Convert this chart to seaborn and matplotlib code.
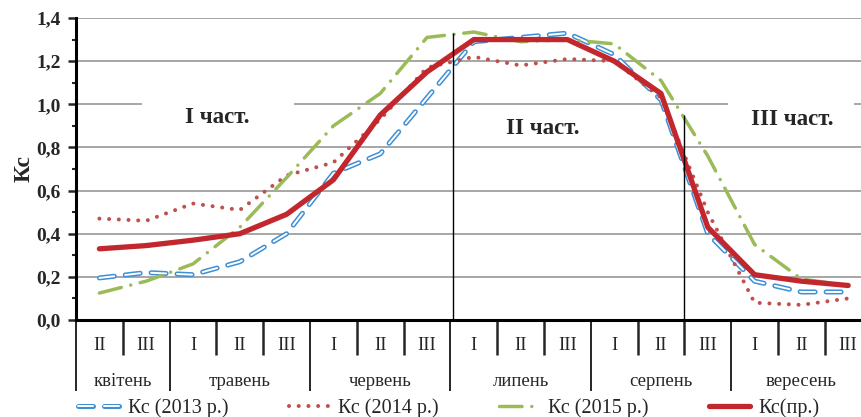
import numpy as np
import pandas as pd
import seaborn as sns
import matplotlib.pyplot as plt
import matplotlib.patheffects as pe
from matplotlib.patches import Rectangle

# decades (I, II, III) of each month, April II .. September III
decades = ["II", "III", "I", "II", "III", "I", "II", "III", "I", "II", "III",
           "I", "II", "III", "I", "II", "III"]
months = ["квітень", "травень", "червень", "липень", "серпень", "вересень"]
month_sizes = [2, 3, 3, 3, 3, 3]

kc_2013 = [0.195, 0.22, 0.21, 0.27, 0.40, 0.68, 0.77, 1.03, 1.29, 1.31, 1.33,
           1.23, 1.02, 0.40, 0.18, 0.13, 0.13]
kc_2014 = [0.47, 0.46, 0.54, 0.51, 0.67, 0.73, 0.93, 1.17, 1.22, 1.18, 1.21,
           1.20, 1.03, 0.50, 0.08, 0.07, 0.10]
kc_2015 = [0.125, 0.18, 0.26, 0.43, 0.66, 0.90, 1.05, 1.31, 1.335, 1.29, 1.30,
           1.28, 1.11, 0.76, 0.35, 0.19, 0.16]
kc_pr = [0.33, 0.345, 0.37, 0.40, 0.49, 0.65, 0.95, 1.15, 1.30, 1.30, 1.30,
         1.20, 1.05, 0.43, 0.21, 0.18, 0.16]

series_labels = ["Кс (2013 р.)", "Кс (2014 р.)", "Кс (2015 р.)", "Кс(пр.)"]

sns.set_style("white")
plt.rcParams['font.family'] = ['Liberation Serif', 'DejaVu Serif']

x = np.arange(len(decades))
data = pd.DataFrame({"x": x, "2013": kc_2013, "2014": kc_2014,
                     "2015": kc_2015, "pr": kc_pr})

fig = plt.figure(figsize=(8.62, 4.17), dpi=100)
ax = fig.add_axes([76 / 862, 97 / 417, 795.6 / 862, 302 / 417])

# 2013 - hollow blue dashes
sns.lineplot(data=data, x="x", y="2013", ax=ax, color="#3d8fd6", lw=3.6,
             linestyle=(0, (3.0, 2.2)), dash_capstyle="round",
             label=series_labels[0], zorder=3,
             path_effects=[pe.Stroke(linewidth=3.6, foreground="#3d8fd6"),
                           pe.Stroke(linewidth=1.4, foreground="white")])
# 2014 - dotted
sns.lineplot(data=data, x="x", y="2014", ax=ax, color="#c0504d", lw=2.9,
             linestyle=(0, (0.01, 2.4)), dash_capstyle="round",
             label=series_labels[1], zorder=3)
# 2015 - dash-dot
sns.lineplot(data=data, x="x", y="2015", ax=ax, color="#9bbb59", lw=2.5,
             linestyle=(0, (6.5, 2.8, 0.01, 2.8)), dash_capstyle="round",
             label=series_labels[2], zorder=3)
# forecast - solid red
sns.lineplot(data=data, x="x", y="pr", ax=ax, color="#c1272d", lw=3.8,
             label=series_labels[3], zorder=4)

if ax.get_legend() is not None:
    ax.get_legend().remove()

ax.set_xlim(-0.5, len(decades) - 0.5)
ax.set_ylim(0, 1.4)

# y axis
ax.set_yticks(np.arange(0, 1.41, 0.2))
ax.set_yticks(np.arange(0.1, 1.41, 0.2), minor=True)
ax.set_yticklabels([f"{v:.1f}".replace(".", ",") for v in np.arange(0, 1.41, 0.2)],
                   fontsize=14, fontweight="bold")
ax.tick_params(axis="y", which="major", direction="out", length=6, width=1.8, pad=5, left=True)
ax.tick_params(axis="y", which="minor", direction="out", length=3, width=1.5, left=True)
ax.set_ylabel("Кс", fontsize=17, fontweight="bold", labelpad=1)
ax.yaxis.grid(True, which="major", color="#a6a6a6", lw=1.4)
ax.set_axisbelow(True)

# x axis: boundaries between decades and months
bounds = np.arange(len(decades) + 1) - 0.5
month_bounds = np.concatenate([[-0.5], np.cumsum(month_sizes) - 0.5])
ax.set_xticks(month_bounds)
ax.set_xticks(bounds, minor=True)
ax.set_xticklabels([])
ax.tick_params(axis="x", which="major", direction="out", length=51, width=1.4, bottom=True)
ax.tick_params(axis="x", which="minor", direction="out", length=25, width=1.8, bottom=True)
ax.set_xlabel("")

for s in ["top", "right"]:
    ax.spines[s].set_visible(False)
for s in ["left", "bottom"]:
    ax.spines[s].set_linewidth(2.2)
    ax.spines[s].set_color("black")

trans = ax.get_xaxis_transform()
for i, d in enumerate(decades):
    ax.text(i, -0.083, d, transform=trans, ha="center", va="center", fontsize=13.5)
start = 0
for m, n in zip(months, month_sizes):
    ax.text(start + n / 2 - 0.5, -0.202, m, transform=trans, ha="center",
            va="center", fontsize=13.5)
    start += n

# period separators and labels
ax.vlines(7.55, 0, 1.33, color="black", lw=1, zorder=5)
ax.vlines(12.5, 0, 0.95, color="black", lw=1, zorder=5)
ax.add_patch(Rectangle((0.9, 0.83), 3.25, 0.21, facecolor="white", edgecolor="none", zorder=1))
ax.add_patch(Rectangle((13.43, 0.83), 2.7, 0.21, facecolor="white", edgecolor="none", zorder=1))
ax.text(2.51, 0.94, "I част.", fontsize=16.5, fontweight="bold", ha="center", va="center", zorder=6)
ax.text(9.48, 0.89, "II част.", fontsize=16.5, fontweight="bold", ha="center", va="center", zorder=6)
ax.text(14.8, 0.93, "III част.", fontsize=16.5, fontweight="bold", ha="center", va="center", zorder=6)

handles, labels = ax.get_legend_handles_labels()
fig.legend(handles, labels, loc="center", bbox_to_anchor=(0.521, 1 - 408 / 417),
           ncol=4, frameon=False, fontsize=14.5, handlelength=2.0,
           handletextpad=0.45, columnspacing=3.0, borderpad=0)

fig.savefig("out.png", dpi=100)
